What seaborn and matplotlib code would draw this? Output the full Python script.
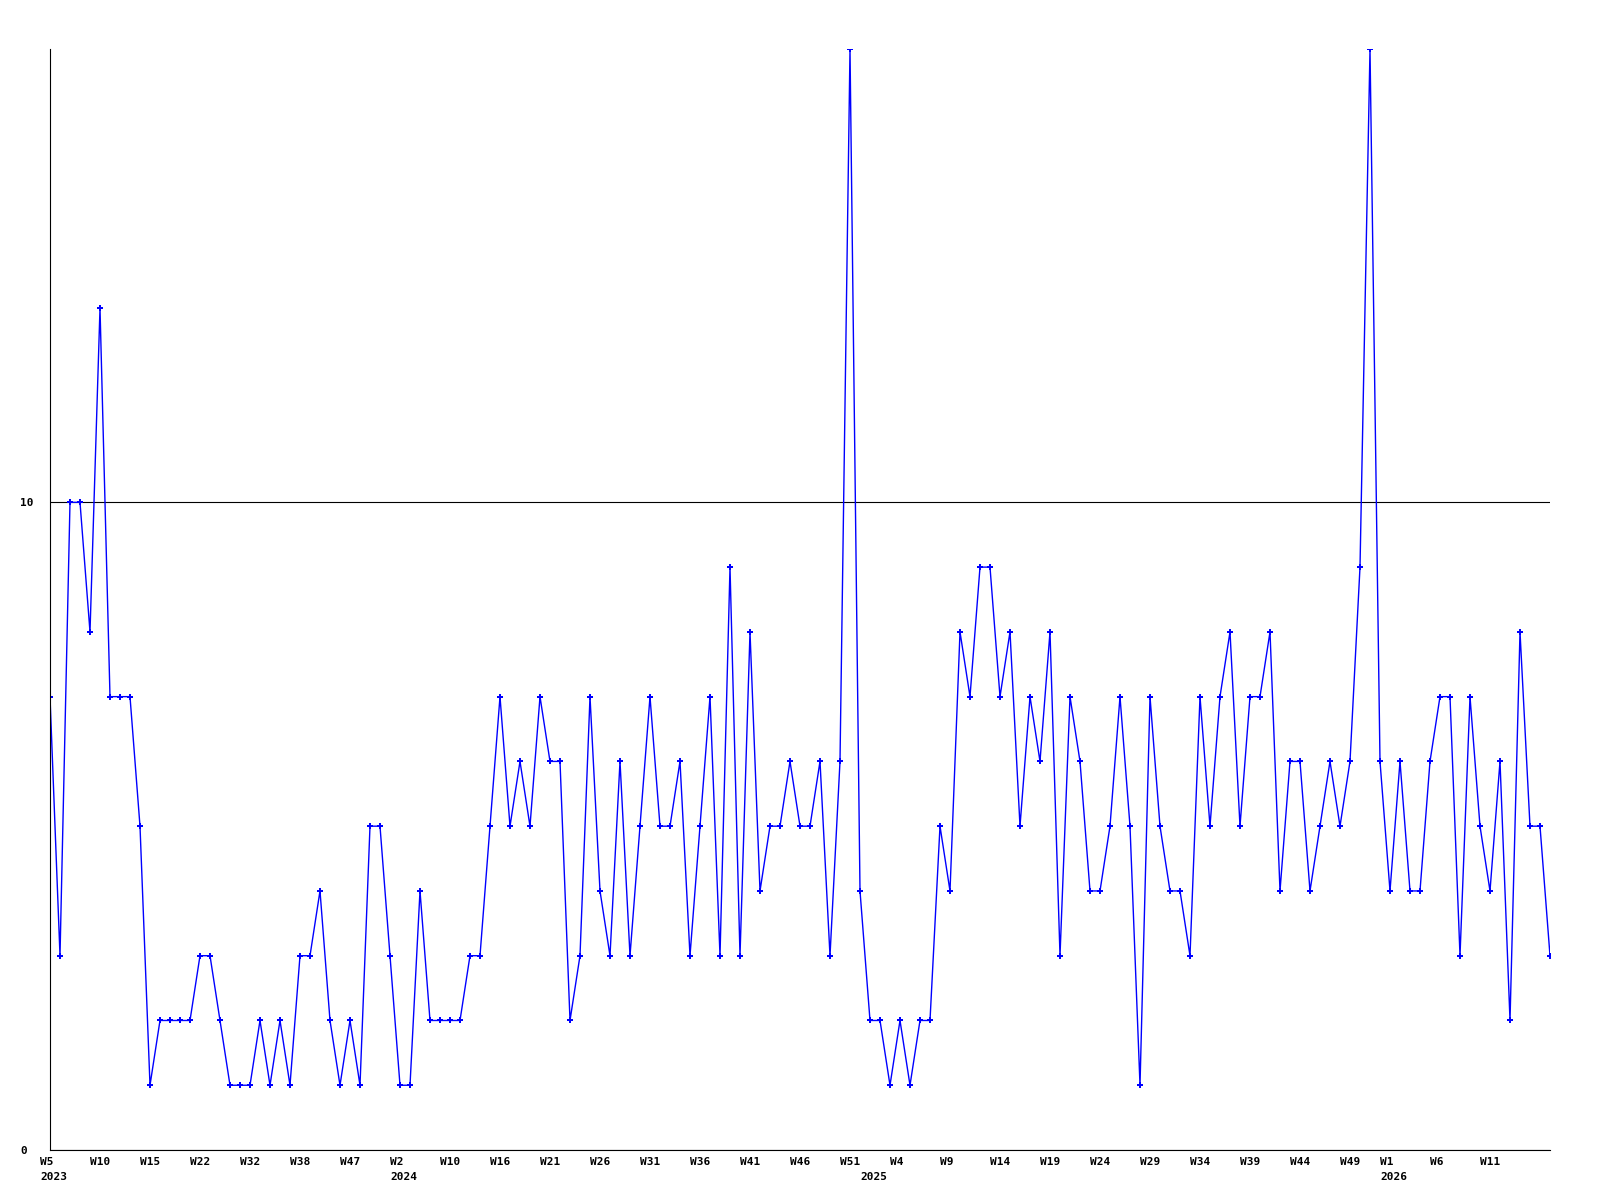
import matplotlib
matplotlib.use("Agg")
import matplotlib.pyplot as plt
import matplotlib.transforms as mtransforms
import seaborn as sns

# weekly counts, one point per week present in the data
values = [7, 3, 10, 10, 8, 13, 7, 7, 7, 5,
          1, 2, 2, 2, 2, 3, 3, 2, 1, 1,
          1, 2, 1, 2, 1, 3, 3, 4, 2, 1,
          2, 1, 5, 5, 3, 1, 1, 4, 2, 2,
          2, 2, 3, 3, 5, 7, 5, 6, 5, 7,
          6, 6, 2, 3, 7, 4, 3, 6, 3, 5,
          7, 5, 5, 6, 3, 5, 7, 3, 9, 3,
          8, 4, 5, 5, 6, 5, 5, 6, 3, 6,
          17, 4, 2, 2, 1, 2, 1, 2, 2, 5,
          4, 8, 7, 9, 9, 7, 8, 5, 7, 6,
          8, 3, 7, 6, 4, 4, 5, 7, 5, 1,
          7, 5, 4, 4, 3, 7, 5, 7, 8, 5,
          7, 7, 8, 4, 6, 6, 4, 5, 6, 5,
          6, 9, 17, 6, 4, 6, 4, 4, 6, 7,
          7, 3, 7, 5, 4, 6, 2, 8, 5, 5,
          3]

week_labels = ["W5", "W10", "W15", "W22", "W32", "W38", "W47", "W2", "W10", "W16",
               "W21", "W26", "W31", "W36", "W41", "W46", "W51", "W4", "W9", "W14",
               "W19", "W24", "W29", "W34", "W39", "W44", "W49", "W1", "W6", "W11"]
week_pos = list(range(0, 131, 5)) + [134, 139, 144]

year_labels = ["2023", "2024", "2025", "2026"]
year_pos = [0, 35, 82, 134]

y_ticks = [0, 10]

sns.set_style("white")
plt.rcParams['font.family'] = ['DejaVu Sans Mono']
plt.rcParams['font.weight'] = 'bold'
plt.rcParams['font.size'] = 8

fig = plt.figure(figsize=(16, 12), dpi=100)
ax = fig.add_axes([50 / 1600, 50 / 1200, 1500 / 1600, 1101 / 1200])

x = list(range(len(values)))
sns.lineplot(x=x, y=values, ax=ax, color='#0000ff', linewidth=1.0,
             marker='P', markersize=4.5, markeredgewidth=0, markerfacecolor='#0000ff')

ax.set_xlim(0, len(values) - 1)
ax.set_ylim(0, 17)

for side in ['top', 'right']:
    ax.spines[side].set_visible(False)
for side in ['left', 'bottom']:
    ax.spines[side].set_color('black')
    ax.spines[side].set_linewidth(0.8)

# y axis: only 0 and 10, gridline at 10
ax.set_yticks(y_ticks)
ax.set_yticklabels([str(v) for v in y_ticks])
ax.tick_params(axis='y', length=0, pad=21.6, labelcolor='black')
for lab in ax.get_yticklabels():
    lab.set_horizontalalignment('left')
ax.grid(axis='y', color='black', linewidth=0.8)
ax.grid(axis='x', visible=False)

# x axis: week labels, year labels underneath
ax.xaxis.remove_overlapping_locs = False
ax.set_xticks(week_pos)
ax.set_xticklabels(week_labels)
ax.set_xticks(year_pos, minor=True)
ax.set_xticklabels(year_labels, minor=True)
ax.tick_params(axis='x', which='major', length=0, pad=5, labelcolor='black')
ax.tick_params(axis='x', which='minor', length=0, pad=16, labelcolor='black')
shift = mtransforms.ScaledTranslation(-10 / 100, 0, fig.dpi_scale_trans)
for lab in ax.get_xticklabels() + ax.get_xticklabels(minor=True):
    lab.set_horizontalalignment('left')
    lab.set_transform(lab.get_transform() + shift)

fig.savefig('out.png', dpi=100)
